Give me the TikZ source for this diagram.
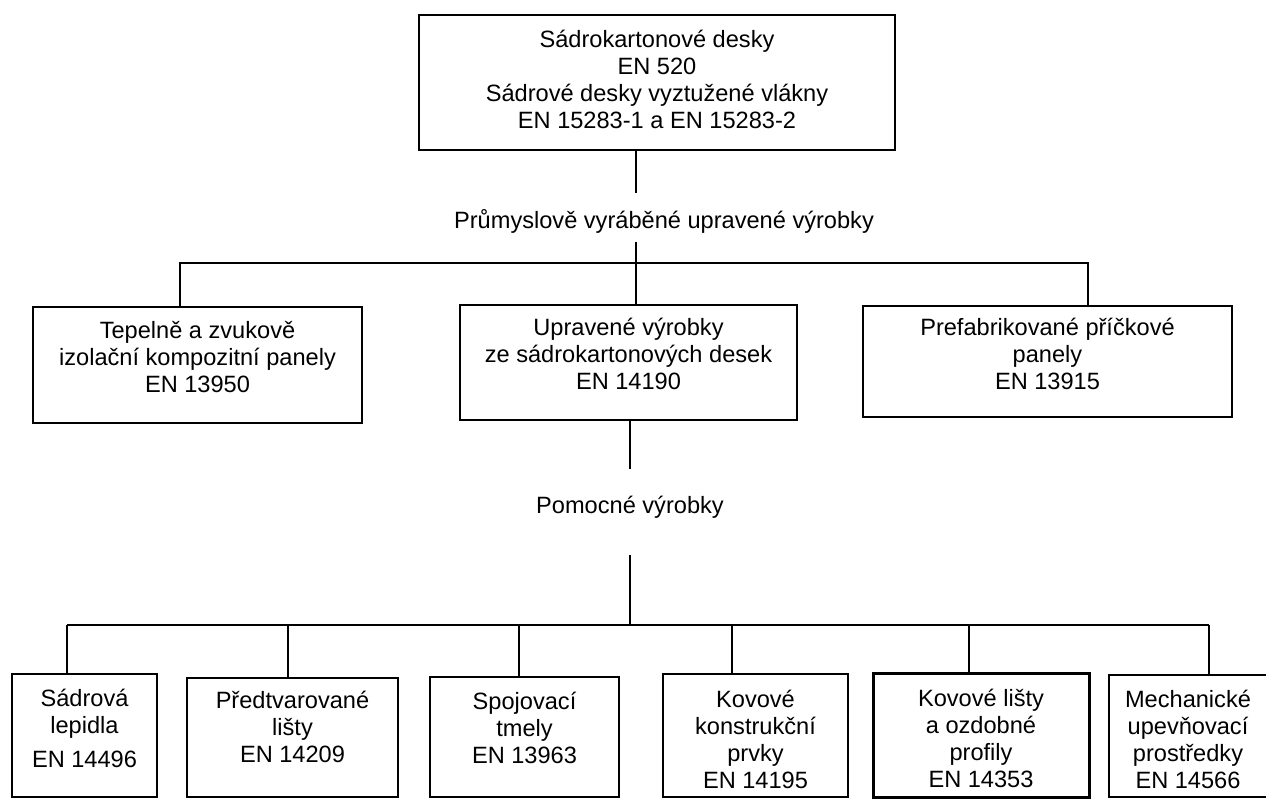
\documentclass[tikz,border=0pt]{standalone}
\usepackage{fontspec}
\setmainfont{Liberation Sans}
\usetikzlibrary{positioning}
\tikzset{
	box/.style={draw, line width=1.6pt, anchor=north west, inner sep=0pt, outer sep=0pt, font=\fontsize{23.6}{27}\selectfont},
	lab/.style={inner sep=0pt, outer sep=0pt, font=\fontsize{23.6}{27}\selectfont},
	conn/.style={line width=1.6pt}
}
\newcommand{\txt}[2][0pt]{\raisebox{#1}[\height][\depth]{\begin{tabular}{@{}c@{}}#2\end{tabular}}}

\begin{document}
\begin{tikzpicture}[x=1pt,y=-1pt]
	\useasboundingbox (0,0) rectangle (1266,799);
	% desky
	\node[box, minimum width=476pt, minimum height=135pt] (top) at (419,15) {\txt{Sádrokartonové desky\\EN 520\\Sádrové desky vyztužené vlákny\\EN 15283-1 a EN 15283-2}};
	\node[lab] (prum) at (664,221) {Průmyslově vyráběné upravené výrobky};
	
	\node[box, minimum width=329pt, minimum height=116pt] (tep) at (33,307) {\txt[5pt]{Tepelně a zvukově\\izolační kompozitní panely\\EN 13950}};
	\node[box, minimum width=337pt, minimum height=115pt] (upr) at (460,305) {\txt[5pt]{Upravené výrobky\\ze sádrokartonových desek\\EN 14190}};
	\node[box, minimum width=369pt, minimum height=111pt] (pre) at (863,306) {\txt[4pt]{Prefabrikované příčkové\\panely\\EN 13915}};
	
	\node[lab] (pom) at (630,507) {Pomocné výrobky};
	
	% pomocne vyrobky
	\node[box, minimum width=145pt, minimum height=123pt] (sad) at (12,674) {\txt[4pt]{Sádrová\\lepidla\\[7pt]EN 14496}};
	\node[box, minimum width=211pt, minimum height=119pt] (pred) at (187,678) {\txt[7pt]{Předtvarované\\lišty\\EN 14209}};
	\node[box, minimum width=189pt, minimum height=120pt] (spo) at (430,677) {\txt[6pt]{Spojovací\\tmely\\EN 13963}};
	\node[box, minimum width=185pt, minimum height=123pt] (kon) at (663,674) {\txt[-7pt]{Kovové\\konstrukční\\prvky\\EN 14195}};
	\node[box, line width=3pt, minimum width=216pt, minimum height=124pt] (lis) at (873,673) {\txt[-7pt]{Kovové lišty\\a ozdobné\\profily\\EN 14353}};
	\node[box, minimum width=158pt, minimum height=122pt] (mech) at (1109,675) {\txt[-7pt]{Mechanické\\upevňovací\\prostředky\\EN 14566}};
	
	\coordinate (j1) at (636,193);
	\coordinate (j2) at (636,242);
	\coordinate (b1) at (180,263);
	\coordinate (b2) at (1088,263);
	\coordinate (k1) at (630,469);
	\coordinate (k2) at (630,555);
	\coordinate (k3) at (630,625);
	\foreach \n/\x in {sad/67, pred/288, spo/519, kon/732, lis/969, mech/1209}
		\coordinate (d\n) at (\x,625);
	
	\draw[conn] (top.south -| j1) -- (j1);
	\draw[conn] (j2) -- (j2 |- upr.north);
	\draw[conn] (b1 |- tep.north) -- (b1) -- (b2) -- (b2 |- pre.north);
	\draw[conn] (upr.south -| k1) -- (k1);
	\draw[conn] (k2) -- (k3);
	\draw[conn] (dsad) -- (dmech);
	\foreach \n in {sad, pred, spo, kon, lis, mech}
		\draw[conn] (d\n) -- (d\n |- \n.north);
\end{tikzpicture}
\end{document}
